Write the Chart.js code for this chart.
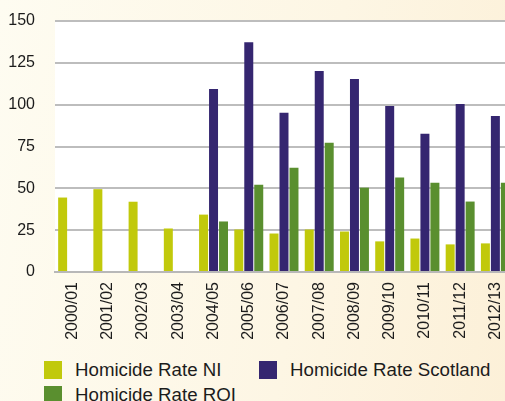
<!DOCTYPE html>
<html>
<head>
<meta charset="utf-8">
<script src="https://cdn.jsdelivr.net/npm/chart.js@4"></script>
<style>
  html, body {
    margin: 0;
    padding: 0;
    width: 505px;
    height: 401px;
    overflow: hidden;
    background: linear-gradient(100deg, #fefcf1 0%, #fdf6e4 60%, #fcf0d8 100%);
    font-family: "Liberation Sans", Arial, sans-serif;
  }
  #wrap {
    position: absolute;
    left: 0;
    top: 0;
    width: 518px;
    height: 345px;
  }
  #legend {
    position: absolute;
    left: 44px;
    top: 361px;
    width: 470px;
    display: grid;
    grid-template-columns: 215px 240px;
    row-gap: 7px;
  }
  .item {
    display: flex;
    align-items: center;
    height: 18px;
    font-size: 18.7px;
    color: #1c1c1c;
    white-space: nowrap;
  }
  .box {
    width: 18px;
    height: 18px;
    margin-right: 13px;
    flex: none;
  }
</style>
</head>
<body>
<div id="wrap"><canvas id="homicideChart"></canvas></div>
<div id="legend"></div>
<script>
const years = ['2000/01', '2001/02', '2002/03', '2003/04', '2004/05', '2005/06', '2006/07',
  '2007/08', '2008/09', '2009/10', '2010/11', '2011/12', '2012/13'];

// rates (no bar = no data)
const rateNI = [44.5, 49.5, 42, 26, 34.3, 25.4, 23, 25.4, 24.2, 18.3, 20, 16.5, 17.1];
const rateScotland = [null, null, null, null, 109.3, 137.3, 95.1, 120.1, 115.3, 99.2, 82.6, 100.4, 93.3];
const rateROI = [null, null, null, null, 30.2, 52.2, 62.3, 77.2, 50.4, 56.4, 53.4, 42.1, 53.4];

const yTicks = [0, 25, 50, 75, 100, 125, 150];

const tickFont = { family: '"Liberation Sans", Arial, sans-serif', size: 16 };

// white plot background
const plotBackground = {
  id: 'plotBackground',
  beforeDraw(chart) {
    const { ctx, chartArea } = chart;
    ctx.save();
    ctx.fillStyle = '#ffffff';
    ctx.fillRect(chartArea.left, chartArea.top, chartArea.right - chartArea.left, chartArea.bottom - chartArea.top);
    ctx.restore();
  }
};

const chart = new Chart(document.getElementById('homicideChart'), {
  type: 'bar',
  data: {
    labels: years,
    datasets: [
      { label: 'Homicide Rate NI', data: rateNI, backgroundColor: '#c1c90b' },
      { label: 'Homicide Rate Scotland', data: rateScotland, backgroundColor: '#352670' },
      { label: 'Homicide Rate ROI', data: rateROI, backgroundColor: '#5a8f2f' }
    ]
  },
  options: {
    responsive: true,
    maintainAspectRatio: false,
    animation: false,
    layout: {
      padding: { left: 9, right: 5, top: 21, bottom: 3 }
    },
    datasets: {
      bar: {
        categoryPercentage: 0.85,
        barPercentage: 0.9
      }
    },
    plugins: {
      legend: { display: false },
      tooltip: { enabled: false }
    },
    scales: {
      x: {
        grid: { display: false, drawTicks: false },
        border: { display: true, color: '#b8b8b8', width: 2 },
        ticks: {
          color: '#1c1c1c',
          font: tickFont,
          minRotation: 90,
          maxRotation: 90,
          autoSkip: false,
          padding: 10
        },
        afterFit(scale) {
          scale.height = 70;
          scale.paddingLeft = 0;
          scale.paddingRight = 0;
        }
      },
      y: {
        min: 0,
        max: 150,
        afterBuildTicks(axis) {
          axis.ticks = yTicks.map(v => ({ value: v }));
        },
        grid: { color: '#bdbdbd', lineWidth: 2, drawTicks: false },
        border: { display: false },
        ticks: {
          color: '#1c1c1c',
          font: tickFont,
          padding: 20
        },
        afterFit(scale) {
          scale.width = 46;
          scale.paddingTop = 0;
          scale.paddingBottom = 0;
        }
      }
    }
  },
  plugins: [plotBackground]
});

// legend laid out like the original: two columns, left aligned
const legendEl = document.getElementById('legend');
chart.data.datasets.forEach(ds => {
  const item = document.createElement('div');
  item.className = 'item';
  item.innerHTML = `<span class="box" style="background:${ds.backgroundColor}"></span>${ds.label}`;
  legendEl.appendChild(item);
});
</script>
</body>
</html>
